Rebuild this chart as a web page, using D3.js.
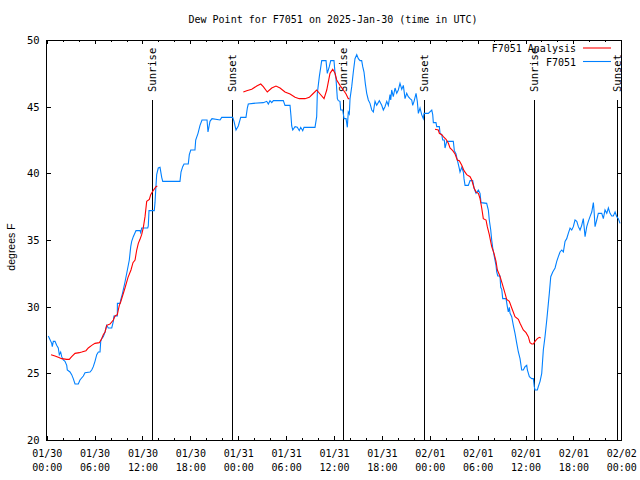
<!DOCTYPE html>
<html><head><meta charset="utf-8">
<script src="https://cdn.jsdelivr.net/npm/d3@7"></script>
<style>body{margin:0;background:#fff}svg{display:block}</style>
</head><body><svg id="c" width="640" height="480"></svg>
<script>
const title = "Dew Point for F7051 on 2025-Jan-30 (time in UTC)";
const yLabel = "degrees F";
const seriesNames = ["F7051 Analysis", "F7051"];
const seriesColors = ["#ff0000", "#0080ff"];
const startUTC = Date.UTC(2025, 0, 30);
const spanHours = 72;
const yTicks = [20, 25, 30, 35, 40, 45, 50];

// observations: hours since 01/30 00:00 UTC, dew point °F
const obsHours = [0.20,0.63,0.70,0.83,1.04,1.25,1.45,1.58,1.75,1.88,2.08,2.29,2.51,2.58,2.92,3.13,3.33,3.55,3.96,4.17,4.59,4.80,5.43,5.64,5.84,6.05,6.27,6.47,6.68,6.77,6.89,7.09,7.31,7.52,7.72,8.15,8.35,8.43,8.85,8.86,9.19,9.27,9.50,9.81,10.06,10.35,10.53,10.65,10.85,11.07,11.19,11.69,11.78,11.90,12.66,12.73,12.82,13.48,13.57,13.66,13.78,13.98,14.20,14.41,14.54,16.70,16.83,17.04,17.21,17.74,17.87,18.05,18.58,18.67,18.96,19.21,19.46,20.09,20.21,20.46,20.71,21.72,21.93,23.31,23.47,23.72,24.01,24.31,24.97,25.14,25.26,25.89,27.14,27.57,27.77,27.98,28.20,28.40,29.65,29.86,30.49,30.61,30.70,30.83,31.12,31.40,31.65,31.83,32.08,32.24,33.62,33.83,33.91,34.16,34.46,35.00,35.16,35.41,35.59,36.00,36.13,36.25,36.42,36.54,36.75,36.84,37.09,37.26,37.51,37.67,37.79,37.92,38.01,38.22,38.42,38.63,38.85,39.05,39.26,39.47,39.60,39.76,39.92,40.10,40.30,40.51,40.73,40.93,41.14,41.35,41.68,41.98,42.18,42.39,42.61,42.81,43.02,43.11,43.23,43.43,43.65,43.86,44.06,44.27,44.49,44.69,44.90,45.11,45.31,45.53,45.74,45.86,46.03,46.28,46.44,46.57,46.78,46.99,47.19,47.28,47.82,48.25,48.37,48.45,48.78,48.87,49.20,49.29,49.50,49.62,49.82,49.91,50.13,50.95,51.08,51.29,51.45,51.67,51.79,52.01,52.21,52.29,52.42,52.83,53.05,53.38,53.55,53.80,54.09,54.30,54.42,55.13,55.34,55.46,55.64,55.76,55.89,56.09,56.30,56.39,56.52,56.80,56.89,57.02,57.14,57.56,57.72,57.84,57.97,58.06,58.27,58.47,58.68,58.90,59.10,59.31,59.52,59.72,59.94,60.15,60.23,60.48,60.78,60.98,61.10,61.19,61.48,61.60,61.82,62.03,62.23,62.44,62.66,62.86,62.98,63.16,63.41,63.70,63.91,64.11,64.32,64.54,64.74,64.95,65.16,65.36,65.58,65.79,65.99,66.20,66.42,66.62,66.83,67.04,67.24,67.46,67.67,67.87,68.08,68.30,68.50,68.58,68.71,68.92,69.12,69.55,69.75,69.96,70.18,70.38,70.59,70.80,71.00,71.22,71.43,71.63,71.84];
const obsDew = [27.8,27.25,27.0,27.4,27.4,27.1,26.9,26.4,26.6,26.25,26.0,25.9,25.6,25.25,25.1,24.9,24.6,24.2,24.2,24.5,24.8,25.05,25.1,25.25,25.5,25.9,26.4,26.6,26.6,27.4,27.6,27.75,28.1,28.6,28.4,28.4,28.9,29.3,29.3,30.25,30.25,30.5,31.0,31.85,32.6,33.5,34.5,34.9,35.25,35.55,35.7,35.7,35.55,35.9,35.9,36.05,37.2,37.2,37.8,38.75,39.9,40.4,40.45,39.7,39.4,39.4,40.1,40.5,40.7,40.7,41.4,41.75,41.75,42.5,43.0,43.6,44.0,44.0,43.1,43.9,44.1,44.0,44.2,44.2,43.9,43.25,43.55,44.2,44.2,44.9,45.2,45.25,45.3,45.4,45.2,45.45,45.3,45.45,45.45,45.1,45.1,44.3,43.55,43.25,43.5,43.45,43.2,43.45,43.2,43.45,43.45,44.25,46.0,47.25,48.45,48.45,47.5,48.0,48.45,48.45,47.5,47.1,45.6,45.45,45.4,44.75,44.75,44.1,44.1,43.45,44.6,44.45,45.6,46.5,47.6,48.6,48.9,48.6,48.45,48.45,48.0,47.6,46.75,46.0,45.5,45.25,44.75,44.6,45.4,45.1,45.45,45.1,44.75,45.0,45.4,45.1,45.9,45.5,46.25,45.75,46.4,46.0,46.25,46.75,46.3,46.6,45.6,46.0,45.75,45.6,45.5,45.1,45.4,46.0,45.4,44.5,44.9,44.4,44.1,44.5,44.5,44.75,44.4,43.8,43.8,43.5,43.5,43.0,42.9,42.5,42.5,41.9,42.4,42.4,41.7,41.45,41.0,40.45,40.1,40.45,40.1,39.6,39.1,39.1,39.45,39.45,38.9,38.5,38.75,38.5,37.8,37.75,37.25,36.5,35.75,35.0,34.4,33.75,33.1,32.6,32.3,32.3,31.45,31.3,30.6,30.6,30.0,29.6,29.95,29.5,29.25,28.6,28.0,27.25,26.6,26.1,25.25,25.25,25.5,25.6,25.25,24.75,24.6,24.6,24.0,23.75,23.75,24.0,24.4,25.0,26.75,27.75,29.0,30.25,31.0,32.25,32.6,32.9,33.4,33.75,34.1,34.25,34.1,34.9,35.1,35.5,35.9,35.75,36.0,36.5,36.4,36.0,35.75,36.1,36.6,35.25,36.0,36.4,36.75,37.1,37.8,37.25,36.0,36.5,37.0,37.0,36.6,37.25,37.0,37.4,37.0,36.8,36.8,37.1,36.75,36.6,36.25];

// analysis: null marks a gap between runs
const anaHours = [0.54,1.04,1.45,1.88,2.51,2.83,3.13,3.55,4.09,4.39,4.92,5.21,5.64,6.05,6.59,6.89,7.09,7.31,7.52,7.93,8.35,8.56,8.85,8.97,9.10,9.27,9.81,10.19,10.56,10.81,11.07,11.28,11.48,11.69,11.90,12.11,12.32,12.53,12.86,13.03,13.23,13.45,13.70,13.86,
  20.0,
  24.64,25.06,25.69,26.32,26.82,27.14,27.64,28.20,28.73,29.24,29.86,30.49,31.12,31.65,32.37,32.91,33.33,33.83,34.25,34.75,35.09,35.50,35.84,36.13,36.34,36.75,37.17,37.51,37.79,37.92,
  43.0,
  48.66,49.07,49.20,49.50,49.70,50.04,50.33,50.54,50.88,51.17,51.45,51.70,52.01,52.29,52.63,53.05,53.26,53.55,53.80,54.09,54.30,54.51,54.71,55.05,55.21,55.46,55.76,56.05,56.30,56.47,56.72,56.89,57.14,57.43,57.64,57.97,58.27,58.68,59.10,59.31,59.72,60.06,60.35,60.56,60.78,60.98,61.19,61.48,61.73,61.90];
const anaDew = [26.4,26.3,26.2,26.1,26.05,26.05,26.25,26.5,26.55,26.6,26.7,26.9,27.1,27.25,27.3,27.6,27.9,28.1,28.6,28.7,29.0,29.3,29.4,29.75,30.1,30.35,31.4,32.2,32.75,33.3,33.5,34.25,34.75,35.05,35.4,35.95,36.75,37.9,38.05,38.4,38.6,38.8,39.0,39.05,
  null,
  46.1,46.2,46.3,46.55,46.7,46.5,46.1,46.4,46.55,46.4,46.1,45.95,45.7,45.6,45.6,45.7,45.95,46.25,45.95,45.6,46.25,47.5,47.8,47.5,47.0,46.6,46.25,45.95,45.6,45.6,
  null,
  43.3,43.25,43.0,42.9,42.75,42.55,42.25,41.9,41.7,41.45,41.0,40.95,40.6,40.2,39.9,39.75,39.5,38.9,38.6,38.5,38.1,37.4,36.6,36.5,36.0,35.4,34.5,34.0,33.4,32.75,32.4,32.1,31.6,31.0,30.55,30.4,29.9,29.25,29.05,28.75,28.25,28.05,27.75,27.3,27.2,27.2,27.4,27.6,27.7,27.65];

const sunLabels = ["Sunrise", "Sunset", "Sunrise", "Sunset", "Sunrise", "Sunset"];
const sunHours = [13.16, 23.26, 37.17, 47.32, 61.10, 71.40];

const hourToDate = h => new Date(startUTC + h * 3600e3);
const obs = obsHours.map((h, i) => ({t: hourToDate(h), v: obsDew[i]}));
const ana = anaHours.map((h, i) => ({t: hourToDate(h), v: anaDew[i]}));

const L = 46.7, R = 621.3, T = 40, B = 440;
const mono = "DejaVu Sans Mono, monospace";
const svg = d3.select("#c");
const x = d3.scaleUtc().domain([hourToDate(0), hourToDate(spanHours)]).range([L, R]);
const y = d3.scaleLinear().domain([20, 50]).range([B, T]);

// title
svg.append("text").attr("x", 333).attr("y", 23).attr("text-anchor", "middle")
  .attr("font-family", mono).attr("font-size", 10).text(title);

// y label
svg.append("text").attr("transform", "translate(14.5,247) rotate(-90)").attr("text-anchor", "middle")
  .attr("font-family", "Liberation Sans, Arial, sans-serif").attr("font-size", 10.5).text(yLabel);

function styleAxis(g) {
  g.select(".domain").remove();
  g.selectAll("line").attr("stroke", "#000").attr("shape-rendering", "crispEdges");
}
// bottom minor + major ticks
svg.append("g").attr("transform", `translate(0,${B})`)
  .call(d3.axisBottom(x).ticks(d3.utcHour.every(2)).tickSize(-2).tickFormat(""))
  .call(styleAxis);
const bx = svg.append("g").attr("transform", `translate(0,${B})`)
  .call(d3.axisBottom(x).ticks(d3.utcHour.every(6)).tickSize(-4).tickFormat(""))
  .call(styleAxis);
bx.selectAll(".tick").each(function(d) {
  const t = d3.select(this).append("text").attr("fill", "#000").attr("font-family", mono)
    .attr("font-size", 10).attr("text-anchor", "middle");
  t.append("tspan").attr("x", 0).attr("y", 17).text(d3.utcFormat("%m/%d")(d));
  t.append("tspan").attr("x", 0).attr("y", 31).text(d3.utcFormat("%H:%M")(d));
});
// top ticks
svg.append("g").attr("transform", `translate(0,${T})`)
  .call(d3.axisTop(x).ticks(d3.utcHour.every(2)).tickSize(-2).tickFormat("")).call(styleAxis);
svg.append("g").attr("transform", `translate(0,${T})`)
  .call(d3.axisTop(x).ticks(d3.utcHour.every(6)).tickSize(-4).tickFormat("")).call(styleAxis);
// left axis
const ly = svg.append("g").attr("transform", `translate(${L},0)`)
  .call(d3.axisLeft(y).tickValues(yTicks).tickSize(-4).tickPadding(7).tickFormat(d3.format("d")))
  .call(styleAxis);
ly.selectAll("text").attr("font-family", mono).attr("font-size", 10.5).attr("fill", "#000");
// right axis
svg.append("g").attr("transform", `translate(${R},0)`)
  .call(d3.axisRight(y).tickValues(yTicks).tickSize(-4).tickFormat("")).call(styleAxis);

// border
svg.append("rect").attr("x", L).attr("y", T).attr("width", R - L).attr("height", B - T)
  .attr("fill", "none").attr("stroke", "#000").attr("shape-rendering", "crispEdges");

// sun lines
const sun = svg.append("g").selectAll("g").data(sunHours).join("g")
  .attr("transform", h => `translate(${Math.round(x(hourToDate(h))) + 0.5},0)`);
sun.append("line").attr("y1", 100).attr("y2", B).attr("stroke", "#000");
sun.append("text").attr("transform", "translate(0,92) rotate(-90)").attr("dy", "0.35em")
  .attr("font-family", mono).attr("font-size", 10.5).text((h, i) => sunLabels[i]);

// series
const line = d3.line().defined(d => d.v != null).x(d => x(d.t)).y(d => y(d.v));
svg.append("path").datum(obs).attr("d", line).attr("fill", "none")
  .attr("stroke", seriesColors[1]).attr("stroke-width", 1.1);
svg.append("path").datum(ana).attr("d", line).attr("fill", "none")
  .attr("stroke", seriesColors[0]).attr("stroke-width", 1.1);

// legend
const lg = svg.append("g").selectAll("g").data(seriesNames).join("g")
  .attr("transform", (d, i) => `translate(0,${48 + i * 13.5})`);
lg.append("text").attr("x", 576).attr("y", 4).attr("text-anchor", "end")
  .attr("font-family", mono).attr("font-size", 10).text(d => d);
lg.append("line").attr("x1", 583).attr("x2", 611).attr("stroke", (d, i) => seriesColors[i]).attr("stroke-width", 1.1);
</script></body></html>
